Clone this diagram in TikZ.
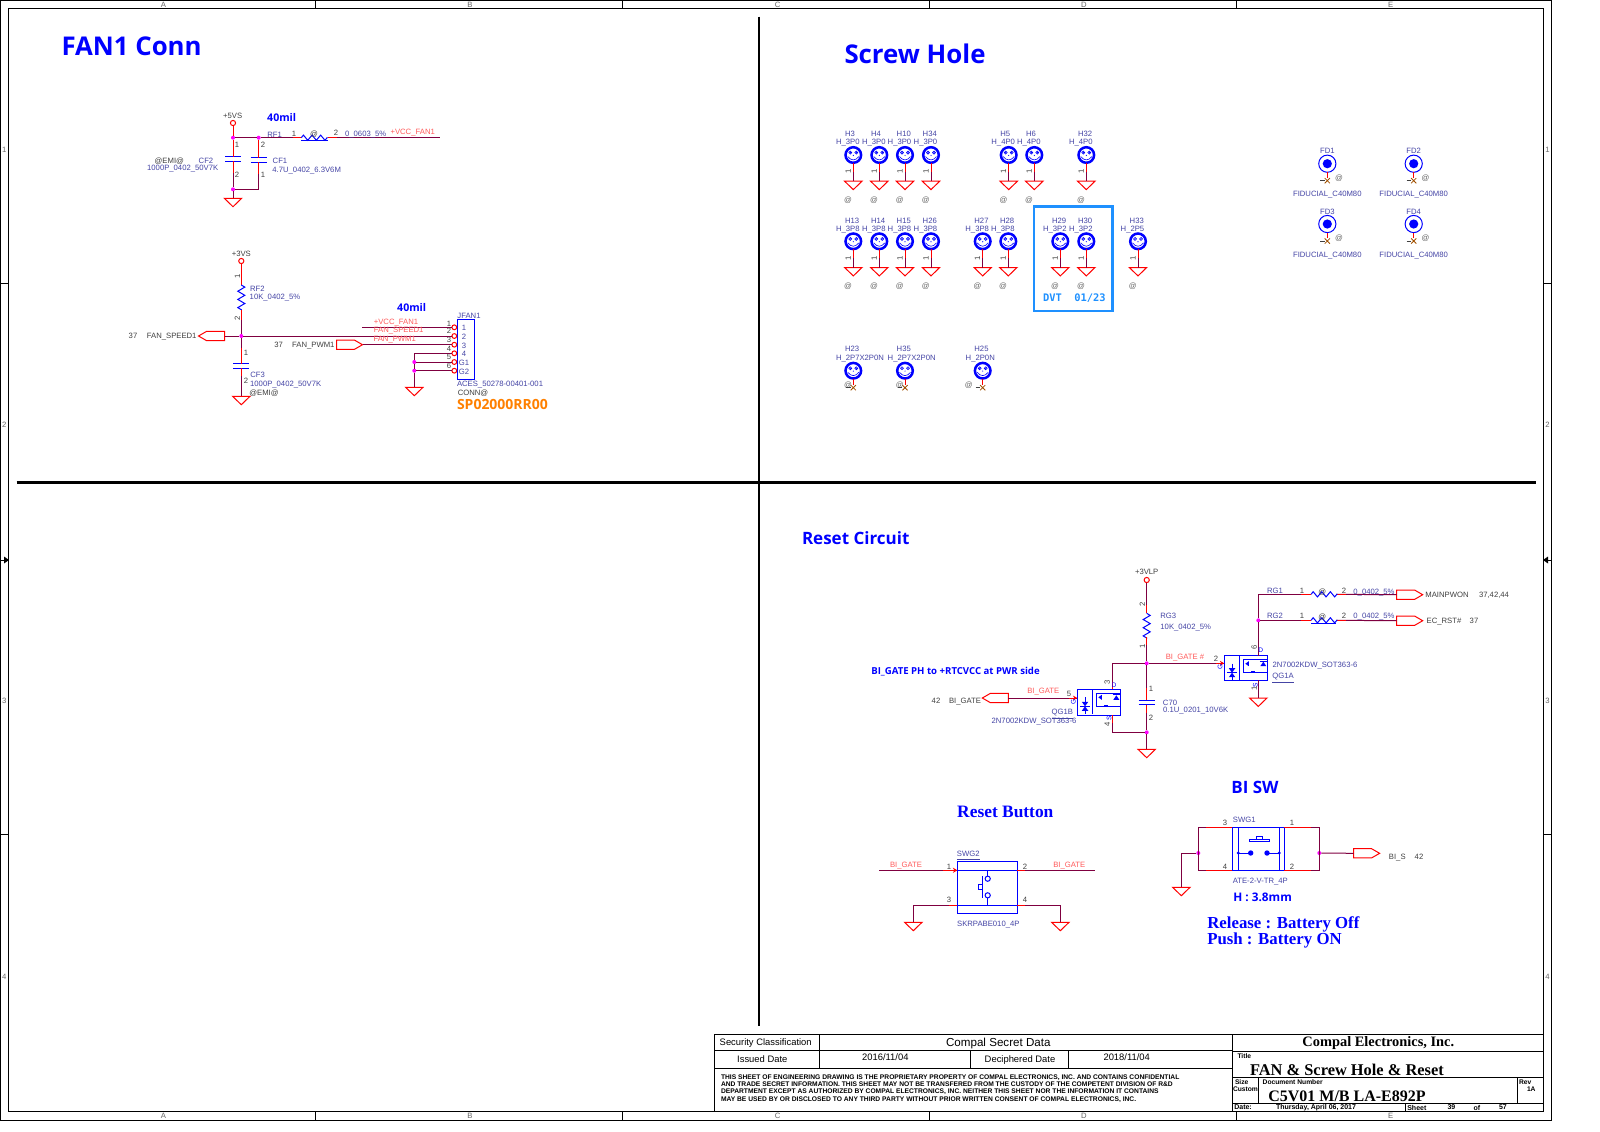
\documentclass[tikz,border=0pt]{standalone}
\usepackage{fontspec}
\setmainfont{Liberation Sans}
\newfontfamily\headfont{Open Sans}
\newfontfamily\serifhead{Liberation Serif}
\newfontfamily\dvtfont{DejaVu Sans Mono}
\usetikzlibrary{shapes.geometric, shapes.misc, arrows.meta, positioning}
\definecolor{wirecol}{HTML}{7F0040}
\definecolor{pinred}{HTML}{FF0000}
\definecolor{netred}{HTML}{FF5A5A}
\definecolor{refblue}{HTML}{4545A5}
\definecolor{schblue}{HTML}{0000FF}
\definecolor{pingray}{HTML}{404040}
\definecolor{atgray}{HTML}{666666}
\definecolor{magdot}{HTML}{FF00FF}
\definecolor{dvtblue}{HTML}{1E90FF}
\definecolor{partorange}{HTML}{FF8000}
\definecolor{ncbrown}{HTML}{A05000}

\begin{document}
\begin{tikzpicture}[
    x=0.5pt, y=-0.5pt,
    every node/.append style={inner sep=0pt, outer sep=0pt},
    reftext/.style={font=\fontsize{3.85}{4.6}\selectfont, text=refblue, text height=2.8pt, text depth=0pt},
    gratext/.style={font=\fontsize{3.85}{4.6}\selectfont, text=pingray, text height=2.8pt, text depth=0pt},
    nettext/.style={font=\fontsize{3.85}{4.6}\selectfont, text=netred, text height=2.8pt, text depth=0pt},
    pintext/.style={font=\fontsize{3.85}{4.6}\selectfont, text=pingray, text height=2.8pt, text depth=0pt},
    symtext/.style={font=\fontsize{3.3}{4}\selectfont, text=schblue, text height=2.4pt, text depth=0pt},
    attext/.style={font=\fontsize{3.85}{4.6}\selectfont, text=atgray, text height=2.8pt, text depth=0pt},
    headtext/.style={font=\headfont\bfseries\fontsize{12.9}{15}\selectfont, text=schblue},
    subhead/.style={font=\headfont\bfseries\fontsize{8.5}{10}\selectfont, text=schblue},
    notetext/.style={font=\headfont\bfseries\fontsize{4.8}{6}\selectfont, text=schblue},
    serifnote/.style={font=\serifhead\bfseries\fontsize{8.4}{9}\selectfont, text=schblue},
    wire/.style={draw=wirecol, line width=0.5pt},
    pin/.style={draw=pinred, line width=0.5pt},
    body/.style={draw=schblue, line width=0.5pt},
    plate/.style={draw=schblue, line width=0.6pt},
    zigh/.style={insert path={-- ++(2.15,-2.6) -- ++(4.3,5.2) -- ++(4.3,-5.2) -- ++(4.3,5.2) -- ++(4.3,-5.2) -- ++(4.3,5.2) -- ++(2.15,-2.6)}},
    zigv/.style={insert path={-- ++(3.5,2.1) -- ++(-7,4.1) -- ++(7,4.1) -- ++(-7,4.1) -- ++(7,4.1) -- ++(-7,4.1) -- ++(3.5,2.1)}},
    junc/.style={circle, fill=magdot, minimum size=2pt},
    pwrdot/.style={circle, draw=pinred, line width=0.5pt, fill=white, minimum size=2.6pt},
    conpin/.style={circle, draw=pinred, line width=0.5pt, fill=white, minimum size=2.4pt},
    capbox/.style={minimum width=8pt, minimum height=2.3pt},
    gndsym/.style={isosceles triangle, isosceles triangle apex angle=92, isosceles triangle stretches,
        shape border rotate=-90, draw=pinred, line width=0.5pt, minimum width=8.7pt, minimum height=4.2pt, anchor=lower side},
    portbox/.style={minimum width=13pt, minimum height=4.6pt},
    hole/.style={circle, draw=schblue, line width=1.25pt, fill=white, minimum size=7.8pt,
        path picture={
            \begin{scope}[shift={(path picture bounding box.center)}, schblue, line width=0.3pt]
                \draw (-3,-2.4) circle (1.5) (3,-2.4) circle (1.5);
                \fill (-3,-2.4) circle (0.6) (3,-2.4) circle (0.6) (0,0.4) circle (0.6);
                \draw (-5.5,1.6) .. controls (-2,6) and (2,6) .. (5.5,1.6);
            \end{scope}
        }},
    fidring/.style={circle, draw=schblue, line width=0.5pt, fill=white, minimum size=8.6pt,
        path picture={\fill[schblue] (path picture bounding box.center) circle (4.6);}},
    ncmark/.style={cross out, draw=ncbrown, line width=0.4pt, minimum size=2.6pt},
    frameline/.style={draw=black, line width=0.5pt},
    divider/.style={draw=black, line width=1.3pt},
    tbsans/.style={font=\fontsize{4.7}{5.5}\selectfont, text=black},
    tbsmall/.style={font=\bfseries\fontsize{3.35}{3.7}\selectfont, text=black, anchor=west},
    tbserif/.style={font=\serifhead\bfseries\fontsize{7.6}{8}\selectfont, text=black},
    switchbar/.style={draw=schblue, line width=0.7pt},
    mosinside/.pic={
        \draw[body] (15,0) -- (15,25);
        \draw[body] (19.5,4) rectangle (43.4,16.7);
        \fill[schblue] (21,8) -- (24.5,5.5) -- (24.5,10.5) -- cycle;
        \fill[schblue] (39,6) -- (42,10.5) -- (36,10.5) -- cycle;
        \draw[body] (35.5,5.5) -- (42.5,5.5);
        \draw[body] (27,16) -- (31,16);
        \fill[schblue] (7.7,17) -- (4.5,12.5) -- (11,12.5) -- cycle;
        \fill[schblue] (7.7,17) -- (4.5,21.5) -- (11,21.5) -- cycle;
        \draw[body] (3,17) -- (12.5,17) (7.7,21.5) -- (7.7,25) (7.7,8) -- (7.7,12.5);
    }
]
    \useasboundingbox (0,0) rectangle (1600,1131);

    % Sheet frame
    \draw[frameline] (0.5,0.5) rectangle (1551.7,1120.7);
    \draw[frameline] (8,8) rectangle (1543.3,1111);
    \foreach \xx in {315.6, 622.6, 929.7, 1236.7} {
        \draw[frameline] (\xx,0.5) -- (\xx,8);
        \draw[frameline] (\xx,1111) -- (\xx,1120.7);
    }
    \foreach \yy in {283.7, 834.7} {
        \draw[frameline] (0.5,\yy) -- (8,\yy);
        \draw[frameline] (1543.3,\yy) -- (1551.7,\yy);
    }
    \draw[frameline] (0.5,560) -- (5,560) (1551.7,560) -- (1547,560);
    \fill (4,556.5) -- (9,560) -- (4,563.5) -- cycle;
    \fill (1548,556.5) -- (1543,560) -- (1548,563.5) -- cycle;
    \foreach \nm/\xx/\tx in {a/163.5/A, b/470/B, c/777.7/C, d/1084/D, e/1390.7/E} {
        \node[attext] (top\nm) at (\xx,4.3) {\tx};
        \node[attext] (bot\nm) at (\xx,1116) {\tx};
    }
    \foreach \nm/\yy/\tx in {r1/150/1, r2/424.5/2, r3/701/3, r4/976.5/4} {
        \node[attext] (left\nm) at (4.3,\yy) {\tx};
        \node[attext] (right\nm) at (1547.5,\yy) {\tx};
    }
    \draw[divider] (759,16.5) -- (759,1025.5);
    \draw[divider] (16.5,482.4) -- (1535.7,482.4);

    % Section titles
    \node[headtext, anchor=west] (fanhead) at (61.5,46) {FAN1 Conn};
    \node[headtext, anchor=west] (screwhead) at (844.5,54) {Screw Hole};
    \node[subhead, anchor=west] (resethead) at (802,538.5) {Reset Circuit};
    \node[subhead] (bisw) at (1255,787.3) {BI SW};
    \node[serifnote, font=\serifhead\bfseries\fontsize{8.7}{9}\selectfont] (resetbtn) at (1005.3,812) {Reset Button};
    \node[notetext, anchor=west] (binote) at (871.3,671.3) {BI\_GATE PH to +RTCVCC at PWR side};
    \node[notetext, font=\headfont\bfseries\fontsize{5.3}{7}\selectfont] (mil1) at (281.7,118) {40mil};
    \node[notetext, font=\headfont\bfseries\fontsize{5.3}{7}\selectfont] (mil2) at (411.7,308) {40mil};
    \node[notetext, font=\headfont\bfseries\fontsize{5.9}{7}\selectfont, anchor=west] (hnote) at (1233.3,897) {H : 3.8mm};
    \node[serifnote, anchor=west] (relnote) at (1207.3,924.5) {Release : Battery Off};
    \node[serifnote, anchor=west] (pushnote) at (1207.3,940.5) {Push : Battery ON};
    \node[font=\headfont\bfseries\fontsize{7}{8}\selectfont, text=partorange, anchor=west] (spnum) at (457,404) {SP02000RR00};

    % Fan power and connector
    \node[pwrdot] (vs5) at (233,123) {};
    \node[junc] (j5a) at (233,137.7) {};
    \node[junc] (j5b) at (258.7,137.7) {};
    \node[junc] (j5c) at (233,189.3) {};
    \coordinate (cf1c) at (258.7,189.3);
    \coordinate (rf1a) at (301.3,137.7);
    \coordinate (rf1b) at (327.7,137.7);
    \coordinate (vccend) at (440,137.7);
    \node[pwrdot] (vs3) at (241.3,261) {};
    \coordinate (rf2a) at (241.3,285);
    \coordinate (rf2b) at (241.3,310);
    \node[junc] (j3a) at (241.3,336) {};
    \foreach \nm/\xx/\yy in {fanspeed/211.5/336, portgate/995.3/698} {
        \node[portbox] (\nm) at (\xx,\yy) {};
        \draw[pin] (\nm.west) -- ([xshift=4pt]\nm.north west) -- (\nm.north east) -- (\nm.south east) -- ([xshift=4pt]\nm.south west) -- cycle;
    }
    \foreach \nm/\xx/\yy in {fanpwm/349.5/344.7, portmain/1409.7/594.7, portrst/1409.7/620.7, portbis/1366.6/853.3} {
        \node[portbox] (\nm) at (\xx,\yy) {};
        \draw[pin] (\nm.east) -- ([xshift=-4pt]\nm.north east) -- (\nm.north west) -- (\nm.south west) -- ([xshift=-4pt]\nm.south east) -- cycle;
    }
    \coordinate (vccj) at (362.3,327.3);

    \node[draw=schblue, line width=0.5pt, minimum width=8.3pt, minimum height=30pt] (JFAN1) at (466,349.3) {};
    \foreach \nm/\yy/\tx in {p1/327.3/1, p2/336/2, p3/344.7/3, p4/353.3/4, p5/362/G1, p6/370.7/G2} {
        \node[conpin] (\nm) at (454.3,\yy) {};
        \node[reftext] (\nm t) at (464,\yy+0.8) {\tx};
    }
    \foreach \nm/\yy/\tx in {q1/323.3/1, q2/331/2, q3/339.7/3, q4/348.3/4, q5/357/5, q6/366/6}
        \node[pintext] (\nm) at (449,\yy) {\tx};

    \node[junc] (j4b) at (414.3,362) {};
    \node[junc] (j4c) at (414.3,370.7) {};
    \coordinate (j4a) at (414.3,353.3);
    \node[gndsym] (gcon) at (414.3,387.3) {};
    \draw[wire] (vccj) -- (p1);
    \draw[wire] (j3a) -- (p2);
    \draw[wire] (fanpwm.east) -- (p3);
    \draw[wire] (fanspeed.east) -- (j3a);
    \draw[wire] (p4) -- (j4a) -- (j4b) -- (j4c) -- (gcon.lower side);
    \draw[wire] (j4b) -- (p5);
    \draw[wire] (j4c) -- (p6);

    % Caps of the fan rails
    \foreach \nm/\xx/\yy in {CF2/233/158.8, CF1/258.7/160, CF3/241.3/365.9, C70/1146.7/702.5} {
        \node[capbox] (\nm) at (\xx,\yy) {};
        \draw[plate] (\nm.north west) -- (\nm.north east) (\nm.south west) -- (\nm.south east);
    }
    \node[gndsym] (g5) at (233,198.3) {};
    \node[gndsym] (g3) at (241.3,396.3) {};
    \draw[pin] (vs5) -- (j5a);
    \draw[wire] (j5a) -- (j5b) -- (rf1a);
    \draw[wire] (rf1b) -- (vccend);
    \draw[pin] (rf1a) -- +(-8,0);
    \draw[pin] (rf1b) -- +(9,0);
    \draw[body] (rf1a) [zigh] -- (rf1b);
    \draw[body] ([yshift=-1.35pt]rf1a) -- ([yshift=-1.35pt]rf1b);
    \draw[pin] (j5a) -- (CF2.north);
    \draw[pin] (CF2.south) -- +(0,12);
    \draw[wire] ([yshift=-6pt]CF2.south) -- (j5c) -- (g5.lower side);
    \draw[pin] (j5b) -- (CF1.north);
    \draw[pin] (CF1.south) -- +(0,12);
    \draw[wire] ([yshift=-6pt]CF1.south) -- (cf1c) -- (j5c);
    \draw[pin] (vs3) -- (rf2a);
    \draw[body] (rf2a) [zigv] -- (rf2b);
    \draw[pin] (rf2b) -- +(0,10);
    \draw[wire] ([yshift=-5pt]rf2b) -- (j3a);
    \draw[wire] (j3a) -- ([yshift=8pt]CF3.north);
    \draw[pin] ([yshift=8pt]CF3.north) -- (CF3.north);
    \draw[pin] (CF3.south) -- +(0,8);
    \draw[wire] ([yshift=-4pt]CF3.south) -- (g3.lower side);

    % Mounting holes
    \foreach \nm/\val/\xx/\yy in {
        H3/H\_3P0/853.3/155, H4/H\_3P0/879.3/155, H10/H\_3P0/905/155, H34/H\_3P0/931/155,
        H5/H\_4P0/1008.7/155, H6/H\_4P0/1034.3/155, H32/H\_4P0/1086.3/155,
        H13/H\_3P8/853.3/241.3, H14/H\_3P8/879.3/241.3, H15/H\_3P8/905/241.3, H26/H\_3P8/931/241.3,
        H27/H\_3P8/982.7/241.3, H28/H\_3P8/1008.3/241.3, H29/H\_3P2/1060.3/241.3, H30/H\_3P2/1086.3/241.3,
        H33/H\_2P5/1138/241.3} {
        \node[hole] (\nm) at (\xx,\yy) {};
        \node[reftext, anchor=west] (\nm r) at ({\xx-8.3},{\yy-21}) {\nm};
        \node[reftext, anchor=west] (\nm v) at ({\xx-17.3},{\yy-13}) {\val};
        \node[gndsym] (\nm g) at (\xx,{\yy+26.2}) {};
        \node[pintext, rotate=90] (\nm p) at ({\xx-5.3},{\yy+16.7}) {1};
        \node[attext] (\nm a) at ({\xx-5.3},{\yy+44.6}) {@};
        \draw[wire] (\nm.south) -- (\nm g.lower side);
        \draw[pin] (\nm.south) -- +(0,9);
    }
    \foreach \nm/\val/\xx/\vx/\ax in {H23/H\_2P7X2P0N/853.3/836/848, H35/H\_2P7X2P0N/905/887.7/899.7, H25/H\_2P0N/982.7/965.7/968.7} {
        \node[hole] (\nm) at (\xx,370.7) {};
        \node[reftext, anchor=west] (\nm r) at ({\xx-8.3},349) {\nm};
        \node[reftext, anchor=west] (\nm v) at (\vx,358) {\val};
        \node[ncmark] (\nm x) at (\xx,387.7) {};
        \coordinate (\nm s) at ({\xx-7},387.7);
        \node[attext] (\nm a) at (\ax,384.3) {@};
        \draw[pin] (\nm.south) -- (\nm x);
        \draw[draw=pingray, line width=0.4pt] (\nm s) -- (\nm x);
    }
    \node[draw=dvtblue, line width=1.2pt, minimum width=39.2pt, minimum height=52.2pt] (dvtbox) at (1073.2,258.8) {};
    \node[font=\dvtfont\bfseries\fontsize{5.2}{6}\selectfont, text=dvtblue] (dvtnote) at (1074.3,298) {DVT\ \ 01/23};

    % Fiducials
    \foreach \nm/\xx/\yy in {FD1/1327.3/163.7, FD2/1413.7/163.7, FD3/1327.3/224, FD4/1413.7/224} {
        \node[fidring] (\nm) at (\xx,\yy) {};
        \node[reftext] (\nm r) at (\xx,{\yy-12.7}) {\nm};
        \node[reftext] (\nm v) at (\xx,{\yy+30.2}) {FIDUCIAL\_C40M80};
        \node[ncmark] (\nm x) at (\xx,{\yy+17}) {};
        \coordinate (\nm s) at ({\xx-7},{\yy+17});
        \node[attext] (\nm a) at ({\xx+11.7},{\yy+14}) {@};
        \draw[pin] (\nm) -- (\nm x);
        \draw[draw=pingray, line width=0.4pt] (\nm s) -- (\nm x);
    }

    % Reset circuit
    \node[pwrdot] (vlp) at (1146.7,580) {};
    \coordinate (rg3a) at (1146.7,613.3);
    \coordinate (rg3b) at (1146.7,637.3);
    \node[junc] (jgate) at (1146.7,663.3) {};
    \node[junc] (jlow) at (1146.7,732.3) {};
    \node[gndsym] (glow) at (1146.7,749.3) {};
    \coordinate (bcorner) at (1112.3,663.3);
    \coordinate (lcorner) at (1112.3,732.3);
    \node[draw=schblue, line width=0.5pt, minimum width=21.7pt, minimum height=13pt] (QG1B) at (1099,702.3) {};
    \node[draw=schblue, line width=0.5pt, minimum width=21.7pt, minimum height=12.3pt] (QG1A) at (1246,668) {};
    \pic at (QG1B.north west) {mosinside};
    \pic at (QG1A.north west) {mosinside};
    \coordinate (qg1bd) at (1112.3,689.3);
    \coordinate (qg1bs) at (1112.3,715.3);
    \coordinate (qg1bg) at (1077.3,698);
    \coordinate (qg1ag) at (1224.3,663.3);
    \coordinate (qg1ad) at (1258.3,655.7);
    \coordinate (qg1as) at (1258.3,680.3);
    \node[gndsym] (gqa) at (1258.3,698) {};
    \node[junc] (jrg) at (1258.3,620.3) {};
    \coordinate (rgtop) at (1258.3,594.3);
    \coordinate (rg1a) at (1311,594.3);
    \coordinate (rg1b) at (1336,594.3);
    \coordinate (rg2a) at (1311,620.3);
    \coordinate (rg2b) at (1336,620.3);

    \draw[wire] (vlp) -- (rg3a);
    \draw[pin] (rg3a) -- +(0,-8);
    \draw[body] (rg3a) [zigv] -- (rg3b);
    \draw[wire] (rg3b) -- (jgate);
    \draw[pin] (rg3b) -- +(0,8);
    \draw[wire] (jgate) -- (bcorner) -- (qg1bd);
    \draw[pin] (qg1bd) -- +(0,-7);
    \draw[wire] (jgate) -- (C70.north);
    \draw[pin] (C70.north) -- +(0,-12);
    \draw[pin] (C70.south) -- +(0,8);
    \draw[wire] ([yshift=-4pt]C70.south) -- (jlow) -- (glow.lower side);
    \draw[wire] (jlow) -- (lcorner) -- (qg1bs);
    \draw[pin] (qg1bs) -- +(0,8);
    \draw[wire] (portgate.east) -- (qg1bg);
    \draw[pin, -{Stealth[length=2.2pt, width=2.4pt]}] ([xshift=-4pt]qg1bg) -- (qg1bg);
    \draw[wire] (jgate) -- (qg1ag);
    \draw[pin, -{Stealth[length=2.2pt, width=2.4pt]}] ([xshift=-4pt]qg1ag) -- (qg1ag);
    \draw[wire] (qg1ad) -- (jrg) -- (rgtop) -- (rg1a);
    \draw[wire] (jrg) -- (rg2a);
    \draw[wire] (rg1b) -- (portmain.west);
    \draw[wire] (rg2b) -- (portrst.west);
    \draw[wire] (qg1as) -- (gqa.lower side);
    \draw[pin] (rg1a) -- +(-10,0);
    \draw[pin] (rg1b) -- +(10,0);
    \draw[pin] (rg2a) -- +(-10,0);
    \draw[pin] (rg2b) -- +(10,0);
    \draw[body] (rg1a) [zigh] -- (rg1b);
    \draw[body] (rg2a) [zigh] -- (rg2b);
    \draw[body] ([yshift=-1.5pt]rg2a) -- ([yshift=-1.5pt]rg2b);

    % Reset button
    \node[draw=schblue, line width=0.5pt, minimum width=30pt, minimum height=26pt] (SWG2) at (987.3,887.3) {};
    \coordinate (bl1) at (957.3,870.3);
    \coordinate (br1) at (1017.3,870.3);
    \coordinate (bl2) at (957.3,905.3);
    \coordinate (br2) at (1017.3,905.3);
    \coordinate (bstartl) at (879,870.3);
    \coordinate (bendr) at (1094.7,870.3);
    \coordinate (bcl) at (913.3,905.3);
    \coordinate (bcr) at (1060.3,905.3);
    \node[gndsym] (gbl) at (913.3,922.3) {};
    \node[gndsym] (gbr) at (1060.3,922.3) {};
    \node[conpin, draw=schblue, minimum size=2.6pt] (bc1) at (987.7,878.7) {};
    \node[conpin, draw=schblue, minimum size=2.6pt] (bc2) at (987.7,895.3) {};
    \draw[wire] (bstartl) -- (bl1);
    \draw[pin, -{Stealth[length=2.2pt, width=2.6pt]}] ([xshift=-7pt]bl1) -- (bl1);
    \draw[wire] (br1) -- (bendr);
    \draw[pin] (br1) -- +(8,0);
    \draw[wire] (gbl.lower side) -- (bcl) -- (bl2);
    \draw[pin] (bl2) -- +(-8,0);
    \draw[wire] (gbr.lower side) -- (bcr) -- (br2);
    \draw[pin] (br2) -- +(8,0);
    \draw[body] (bl1) -- (br1);
    \draw[body] (bl2) -- (br2);
    \draw[body] (bc1) -- (bc1 |- bl1);
    \draw[body] (bc2) -- (bc2 |- bl2);
    \draw[switchbar] (982.7,876) -- (982.7,897.7);
    \draw[body] (982.7,884.3) rectangle (978.3,889.7);

    % Battery switch
    \node[draw=schblue, line width=0.5pt, minimum width=26pt, minimum height=21.5pt] (SWG1) at (1258.3,848.8) {};
    \draw[body] (1238.3,827.3) -- (1238.3,870.3) (1279.3,827.3) -- (1279.3,870.3);
    \coordinate (sl1) at (1232.3,827.3);
    \coordinate (sl2) at (1232.3,870.3);
    \coordinate (sr1) at (1284.3,827.3);
    \coordinate (sr2) at (1284.3,870.3);
    \coordinate (sltop) at (1198.3,827.3);
    \coordinate (slbot) at (1198.3,870.3);
    \coordinate (srtop) at (1319.3,827.3);
    \coordinate (srbot) at (1319.3,870.3);
    \node[junc] (jsl) at (1198.3,853) {};
    \node[junc] (jsr) at (1319.3,853) {};
    \coordinate (sgc) at (1181.3,853);
    \node[gndsym] (gsw) at (1181.3,887.3) {};
    \draw[wire] (sl1) -- (sltop) -- (slbot) -- (sl2);
    \draw[wire] (sr1) -- (srtop) -- (srbot) -- (sr2);
    \draw[pin] (sl1) -- +(-26,0);
    \draw[pin] (sl2) -- +(-26,0);
    \draw[pin] (sr1) -- +(27,0);
    \draw[pin] (sr2) -- +(27,0);
    \draw[wire] (jsl) -- (sgc) -- (gsw.lower side);
    \draw[wire] (jsr) -- (portbis.west);
    \fill[schblue] (1238.3,853) circle (1.6) (1279.3,853) circle (1.6) (1250.7,853) circle (2.7) (1267,853) circle (2.7);
    \draw[body] (1238.3,853) -- (1250.7,853) (1267,853) -- (1279.3,853);
    \draw[body] (1249.3,839.5) rectangle (1269.7,841.7);
    \draw[body] (1256,839.5) rectangle (1262.7,836.3);

    % Part labels
    \foreach \nm/\xx/\yy/\tx in {
        rf1t/274.7/134.3/RF1, rf1v/365.7/134/0\_0603\_5\%, cf1t/280/160.3/CF1, cf1v/306.7/170/4.7U\_0402\_6.3V6M,
        cf2t/206/160.3/CF2, cf2v/182.7/168/1000P\_0402\_50V7K, rf2t/257.3/289/RF2, rf2v/275/297/10K\_0402\_5\%,
        cf3t/257.7/375/CF3, cf3v/285.7/384/1000P\_0402\_50V7K, jfant/469/315.3/JFAN1,
        rg3t/1168.3/616/RG3, rg3v/1185.7/627/10K\_0402\_5\%, c70t/1170/703/C70, c70v/1195.7/710/0.1U\_0201\_10V6K,
        qbv/1034/720.3/2N7002KDW\_SOT363-6, qav/1315/665/2N7002KDW\_SOT363-6,
        rg1t/1275/591/RG1, rg1v/1374/591.3/0\_0402\_5\%, rg2t/1275/616/RG2, rg2v/1374/616/0\_0402\_5\%,
        swg2v/988.3/923.3/SKRPABE010\_4P, swg1t/1244.3/819.3/SWG1, swg1v/1260.3/880.7/ATE-2-V-TR\_4P}
        \node[reftext] (\nm) at (\xx,\yy) {\tx};
    \node[reftext] (qbt) at (1062.3,711.7) {\underline{QG1B}};
    \node[reftext] (qat) at (1283,675.7) {\underline{QG1A}};
    \node[reftext] (swg2t) at (968.3,853.3) {\underline{SWG2}};
    \node[reftext, anchor=west] (aces) at (457,383.7) {ACES\_50278-00401-001};

    % Net names and port text
    \foreach \nm/\xx/\yy/\tx in {
        nvcc1/412.7/131.3/+VCC\_FAN1, nvcc2/396/321.3/+VCC\_FAN1, nspd/398.7/329.3/FAN\_SPEED1, npwm/394.7/338.3/FAN\_PWM1,
        ngate1/1043.3/691/BI\_GATE, ngate2/1185/657/BI\_GATE \#, ngate3/906/864.3/BI\_GATE, ngate4/1069.3/864.3/BI\_GATE}
        \node[nettext] (\nm) at (\xx,\yy) {\tx};
    \foreach \nm/\xx/\yy/\tx in {
        vs5t/232.7/115.3/+5VS, vs3t/241.3/253.3/+3VS, vlpt/1146.7/571.3/+3VLP, emi1/169.3/160.3/@EMI@, emi2/264/392.3/@EMI@,
        conn/473/392.3/CONN@, s37/133/336/37, sname/171.7/336/FAN\_SPEED1, w37/278.7/345/37, wname/313.3/345/FAN\_PWM1,
        g42/936/701/42, gname/965/701/BI\_GATE, mname/1447/595/MAINPWON, mnum/1494/595/{37,42,44},
        ename/1444/621/EC\_RST\#, enum/1474/621/37, bname/1397.3/856.3/BI\_S, bnum/1419/856.3/42,
        rfa/314/134/@, rg1a/1322.3/591.7/@, rg2at/1322.3/617/@}
        \node[gratext] (t\nm) at (\xx,\yy) {\tx};

    % Pin numbers
    \foreach \nm/\xx/\yy/\tx in {
        a1/294/133.3/1, a2/336/133/2, a3/237/145/1, a4/237/174.3/2, a5/263/145/2, a6/263/174.3/1,
        a7/246/352.3/1, a8/246/381/2, a9/1151/688.3/1, a10/1151/717.3/2, a11/1069/693.3/5, a12/1216/659/2,
        a13/1302/590.3/1, a14/1344/590.3/2, a15/1302/616/1, a16/1344/616/2,
        a17/949/866.3/1, a18/1025/866.3/2, a19/949/900/3, a20/1025/900/4,
        a21/1225/822.3/3, a22/1292/822.3/1, a23/1225/866.3/4, a24/1292/866.3/2}
        \node[pintext] (\nm) at (\xx,\yy) {\tx};
    \foreach \nm/\xx/\yy/\tx in {
        b1/237.3/276/1, b2/237.3/318.7/2, b3/1142.3/604/2, b4/1142.3/646/1, b5/1107/682.3/3, b6/1107/724/4,
        b7/1254/647.3/6, b8/1254/688.3/1}
        \node[pintext, rotate=90] (\nm) at (\xx,\yy) {\tx};
    \foreach \nm/\xx/\yy/\tx/\rot in {
        d1/1114/685.3/D/0, d2/1109/718/S/90, d3/1073.3/701.7/G/90, d4/1260.7/650.3/D/0, d5/1255.3/685/S/90, d6/1220/666.7/G/90}
        \node[symtext, rotate=\rot] (\nm) at (\xx,\yy) {\tx};

    % Title block
    \draw[frameline] (714.3,1034) -- (1543.3,1034);
    \draw[frameline] (714.3,1034) -- (714.3,1111);
    \draw[frameline] (714.3,1050.7) -- (1232.3,1050.7);
    \draw[frameline] (714.3,1068) -- (1232.3,1068);
    \draw[frameline] (819,1034) -- (819,1068);
    \draw[frameline] (970,1050.7) -- (970,1068);
    \draw[frameline] (1068.3,1050.7) -- (1068.3,1068);
    \draw[frameline] (1232.3,1034) -- (1232.3,1111);
    \draw[frameline] (1232.3,1051.7) -- (1543.3,1051.7);
    \draw[frameline] (1232.3,1077.7) -- (1543.3,1077.7);
    \draw[frameline] (1232.3,1103.3) -- (1543.3,1103.3);
    \draw[frameline] (1258.3,1077.7) -- (1258.3,1103.3);
    \draw[frameline] (1517.7,1077.7) -- (1517.7,1103.3);
    \draw[frameline] (1405.7,1103.3) -- (1405.7,1111);
    \node[tbsans] (secclass) at (765.7,1043.3) {Security Classification};
    \node[tbsans, font=\fontsize{5.8}{6.5}\selectfont] (secdata) at (998.3,1043.3) {Compal Secret Data};
    \node[tbsans] (issued) at (762.3,1059.3) {Issued Date};
    \node[tbsans] (issuedval) at (885.3,1056.7) {2016/11/04};
    \node[tbsans] (deciph) at (1020,1060.3) {Deciphered Date};
    \node[tbsans] (deciphval) at (1126.7,1056.7) {2018/11/04};
    \node[tbsmall] (dis1) at (721,1077.7) {THIS SHEET OF ENGINEERING DRAWING IS THE PROPRIETARY PROPERTY OF COMPAL ELECTRONICS, INC. AND CONTAINS CONFIDENTIAL};
    \node[tbsmall] (dis2) at (721,1084.5) {AND TRADE SECRET INFORMATION. THIS SHEET MAY NOT BE TRANSFERED FROM THE CUSTODY OF THE COMPETENT DIVISION OF R\&D};
    \node[tbsmall] (dis3) at (721,1092) {DEPARTMENT EXCEPT AS AUTHORIZED BY COMPAL ELECTRONICS, INC. NEITHER THIS SHEET NOR THE INFORMATION IT CONTAINS};
    \node[tbsmall] (dis4) at (721,1099.3) {MAY BE USED BY OR DISCLOSED TO ANY THIRD PARTY WITHOUT PRIOR WRITTEN CONSENT OF COMPAL ELECTRONICS, INC.};
    \node[tbserif, font=\serifhead\bfseries\fontsize{7.2}{8}\selectfont] (compal) at (1378.3,1043.3) {Compal Electronics, Inc.};
    \node[tbsmall] (titlelbl) at (1237.5,1056.3) {Title};
    \node[tbserif, anchor=west, font=\serifhead\bfseries\fontsize{8.2}{9}\selectfont] (titleval) at (1250,1070) {FAN \& Screw Hole \& Reset};
    \node[tbsmall] (sizelbl) at (1235,1082) {Size};
    \node[tbsmall] (customlbl) at (1233,1089) {Custom};
    \node[tbsmall] (doclbl) at (1262.7,1082) {Document Number};
    \node[tbserif, anchor=west, font=\serifhead\bfseries\fontsize{8}{9}\selectfont] (docval) at (1268.3,1096) {C5V01 M/B LA-E892P};
    \node[tbsmall] (revlbl) at (1519,1082) {Rev};
    \node[tbsmall] (revval) at (1527,1089.3) {1A};
    \node[tbsmall, font=\bfseries\fontsize{3.5}{4}\selectfont] (datelbl) at (1234.3,1107.5) {Date:};
    \node[tbsmall, font=\bfseries\fontsize{3.5}{4}\selectfont] (dateval) at (1276,1107.5) {Thursday, April 06, 2017};
    \node[tbsmall, font=\bfseries\fontsize{3.5}{4}\selectfont] (sheetlbl) at (1407.3,1107.5) {Sheet};
    \node[tbsmall, font=\bfseries\fontsize{3.5}{4}\selectfont] (sheetnum) at (1447.5,1107.5) {39};
    \node[tbsmall, font=\bfseries\fontsize{3.5}{4}\selectfont] (sheetof) at (1473.5,1107.5) {of};
    \node[tbsmall, font=\bfseries\fontsize{3.5}{4}\selectfont] (sheettot) at (1499,1107.5) {57};
\end{tikzpicture}
\end{document}
